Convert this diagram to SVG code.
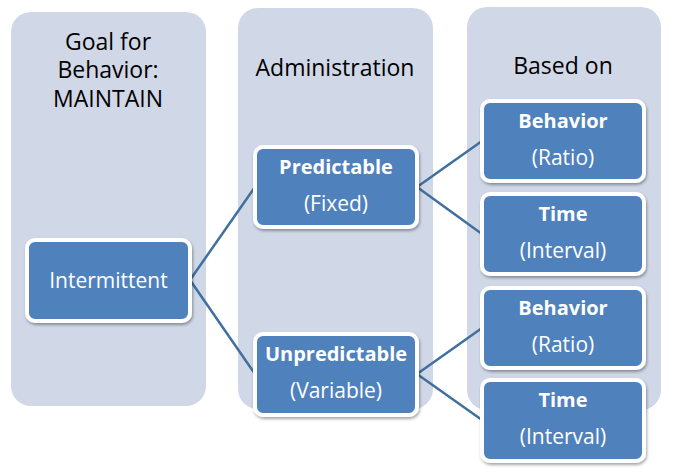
<svg xmlns="http://www.w3.org/2000/svg" width="673" height="470" viewBox="0 0 673 470">
<defs>
<style>
.col{fill:#D0D8E8;}
.node{fill:#4F81BD;stroke:#FFFFFF;stroke-width:4;filter:url(#sh);}
.hdr{font-family:"Open Sans","Liberation Sans",sans-serif;font-size:23px;fill:#000000;text-anchor:middle;}
.t{font-family:"Open Sans","Liberation Sans",sans-serif;font-size:21px;fill:#FFFFFF;text-anchor:middle;}
.b{font-weight:bold;font-size:20px;}
.ln{stroke:#41709F;stroke-width:2.5;fill:none;}
</style>
<filter id="sh" x="-10%" y="-10%" width="125%" height="130%">
<feDropShadow dx="1" dy="2" stdDeviation="1.5" flood-color="#000000" flood-opacity="0.35"/>
</filter>
</defs>
<g id="columns">
<rect class="col" x="11" y="12" width="195" height="394" rx="20"/>
<rect class="col" x="238" y="8" width="195" height="401" rx="20"/>
<rect class="col" x="467" y="7" width="194" height="403" rx="20"/>
<text class="hdr" x="108" y="50">Goal for</text>
<text class="hdr" x="108" y="78">Behavior:</text>
<text class="hdr" x="108" y="107">MAINTAIN</text>
<text class="hdr" x="335" y="76">Administration</text>
<text class="hdr" x="563" y="74">Based on</text>
</g>
<g id="connectors">
<path class="ln" d="M190,280 L255,187 M190,280 L255,374"/>
<path class="ln" d="M417,187 L482,141 M417,187 L482,234"/>
<path class="ln" d="M417,374 L482,328 M417,374 L482,420"/>
</g>
<g id="n-intermittent">
<rect class="node" x="27" y="240" width="163" height="81" rx="8"/>
<text class="t" x="108.5" y="288">Intermittent</text>
</g>
<g id="n-predictable">
<rect class="node" x="255" y="147" width="162" height="80" rx="8"/>
<text class="t b" x="336" y="174">Predictable</text>
<text class="t" x="336" y="211">(Fixed)</text>
</g>
<g id="n-unpredictable">
<rect class="node" x="255" y="334" width="162" height="81" rx="8"/>
<text class="t b" x="336" y="361">Unpredictable</text>
<text class="t" x="336" y="398">(Variable)</text>
</g>
<g id="n-behavior1">
<rect class="node" x="482" y="101" width="162" height="80" rx="8"/>
<text class="t b" x="563" y="128">Behavior</text>
<text class="t" x="563" y="165">(Ratio)</text>
</g>
<g id="n-time1">
<rect class="node" x="482" y="194" width="162" height="80" rx="8"/>
<text class="t b" x="563" y="221">Time</text>
<text class="t" x="563" y="258">(Interval)</text>
</g>
<g id="n-behavior2">
<rect class="node" x="482" y="288" width="162" height="80" rx="8"/>
<text class="t b" x="563" y="315">Behavior</text>
<text class="t" x="563" y="352">(Ratio)</text>
</g>
<g id="n-time2">
<rect class="node" x="482" y="380" width="162" height="81" rx="8"/>
<text class="t b" x="563" y="407">Time</text>
<text class="t" x="563" y="444">(Interval)</text>
</g>
</svg>
